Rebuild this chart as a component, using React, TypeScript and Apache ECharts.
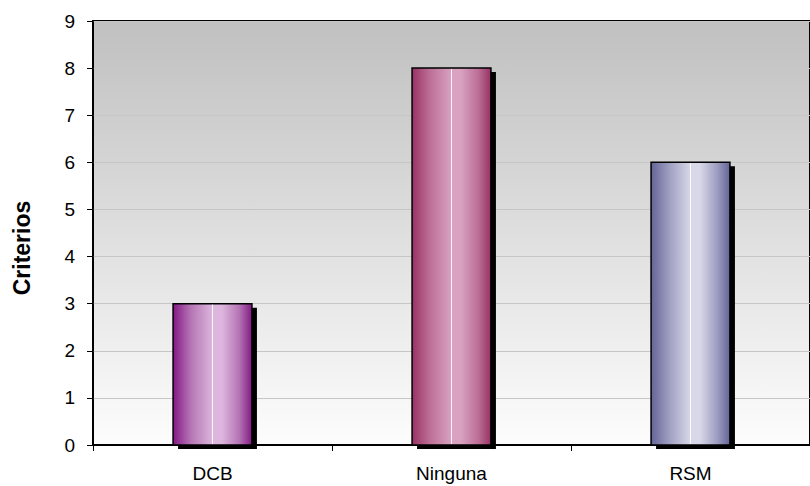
import React, { useEffect, useRef } from "react";
import * as echarts from "echarts";

const categories = ["DCB", "Ninguna", "RSM"];
const values = [3, 8, 6];
const yTicks = { min: 0, max: 9, interval: 1 };
const axisTitle = "Criterios";

// Cylinder-like shading per bar: [edge, mid, highlight]
const barShades = [
  ["#841884", "#b474b4", "#dcb6dc"],
  ["#983264", "#bc6e96", "#d8a2c0"],
  ["#646498", "#9c9cc0", "#d8d8e8"],
];

const FONT = "'Liberation Sans', Arial, sans-serif";

function barFill(idx: number) {
  const [edge, mid, hi] = barShades[idx % barShades.length];
  return new echarts.graphic.LinearGradient(0, 0, 1, 0, [
    { offset: 0, color: edge },
    { offset: 0.22, color: mid },
    { offset: 0.5, color: hi },
    { offset: 0.62, color: hi },
    { offset: 0.84, color: mid },
    { offset: 1, color: edge },
  ]);
}

export default function App() {
  const ref = useRef<HTMLDivElement>(null);

  useEffect(() => {
    if (!ref.current) return;
    const chart = echarts.init(ref.current, undefined, { renderer: "svg" });

    chart.setOption({
      animation: false,
      backgroundColor: "#ffffff",
      grid: {
        left: 93,
        top: 21,
        width: 726,
        height: 424,
        show: true,
        borderColor: "#000000",
        borderWidth: 2,
        backgroundColor: new echarts.graphic.LinearGradient(0, 0, 0, 1, [
          { offset: 0, color: "#c0c0c0" },
          { offset: 1, color: "#fdfdfd" },
        ]),
      },
      // Y-axis title, sitting a little below the plot's vertical centre
      graphic: [
        {
          type: "text",
          x: 22,
          y: 248,
          rotation: Math.PI / 2,
          style: {
            text: axisTitle,
            fill: "#000000",
            font: `bold 23px ${FONT}`,
            align: "center",
            verticalAlign: "middle",
          },
        },
      ],
      xAxis: {
        type: "category",
        data: categories,
        axisLine: { show: true, lineStyle: { color: "#000000", width: 2 } },
        axisTick: { show: true, alignWithLabel: false, length: 6, lineStyle: { color: "#000000", width: 1 } },
        axisLabel: { color: "#000000", fontSize: 19, fontFamily: FONT, margin: 19 },
        splitLine: { show: false },
      },
      yAxis: {
        type: "value",
        min: yTicks.min,
        max: yTicks.max,
        interval: yTicks.interval,
        axisLine: { show: true, lineStyle: { color: "#000000", width: 1.5 } },
        axisTick: { show: true, length: 6, lineStyle: { color: "#000000", width: 1 } },
        axisLabel: { color: "#000000", fontSize: 19, fontFamily: FONT, margin: 18 },
        splitLine: { show: true, lineStyle: { color: "#c6c6c6", width: 1 } },
      },
      series: [
        {
          type: "custom",
          clip: false,
          data: values.map((v, i) => [i, v]),
          encode: { x: 0, y: 1 },
          renderItem: (params: any, api: any) => {
            const idx = api.value(0);
            const val = api.value(1);
            const top = api.coord([idx, val]);
            const base = api.coord([idx, 0]);
            const bw = api.size([1, 0])[0] * 0.33;
            const x = top[0] - bw / 2;
            const y = top[1];
            const h = base[1] - top[1];
            return {
              type: "group",
              children: [
                {
                  type: "rect",
                  shape: { x: x + 5, y: y + 4, width: bw, height: h },
                  style: { fill: "#000000" },
                },
                {
                  type: "rect",
                  shape: { x, y, width: bw, height: h },
                  style: { fill: barFill(params.dataIndex), stroke: "#000000", lineWidth: 1.5 },
                },
                {
                  type: "line",
                  shape: { x1: top[0], y1: y + 1, x2: top[0], y2: base[1] - 1 },
                  style: { stroke: "rgba(255,255,255,0.9)", lineWidth: 1 },
                },
              ],
            };
          },
          z: 3,
        },
      ],
    });

    return () => chart.dispose();
  }, []);

  return (
    <div
      ref={ref}
      style={{ position: "fixed", left: 0, top: 0, width: 810, height: 486, background: "#ffffff" }}
    />
  );
}
